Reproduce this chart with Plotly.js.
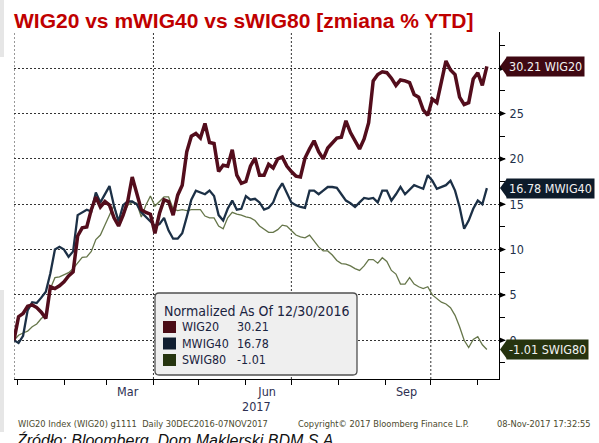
<!DOCTYPE html>
<html><head><meta charset="utf-8">
<script src="https://cdn.plot.ly/plotly-3.0.1.min.js"></script>
<style>html,body{margin:0;padding:0;background:#fff;} #chart{width:599px;height:443px;}</style>
</head><body><div id="chart"></div>
<script>
const dates = ['2016-12-30','2017-01-02','2017-01-05','2017-01-08','2017-01-11','2017-01-14','2017-01-17','2017-01-20','2017-01-23','2017-01-26','2017-01-29',
'2017-02-01','2017-02-04','2017-02-07','2017-02-10','2017-02-13','2017-02-16','2017-02-19','2017-02-22','2017-02-25','2017-02-28',
'2017-03-03','2017-03-06','2017-03-09','2017-03-12','2017-03-15','2017-03-18','2017-03-21','2017-03-24','2017-03-27','2017-03-30',
'2017-04-02','2017-04-05','2017-04-08','2017-04-11','2017-04-14','2017-04-17','2017-04-20','2017-04-23','2017-04-26','2017-04-29',
'2017-05-02','2017-05-05','2017-05-08','2017-05-11','2017-05-14','2017-05-17','2017-05-20','2017-05-23','2017-05-26','2017-05-29',
'2017-06-01','2017-06-04','2017-06-07','2017-06-10','2017-06-13','2017-06-16','2017-06-19','2017-06-22','2017-06-25','2017-06-28',
'2017-07-01','2017-07-04','2017-07-07','2017-07-10','2017-07-13','2017-07-16','2017-07-19','2017-07-22','2017-07-25','2017-07-28',
'2017-07-31','2017-08-03','2017-08-06','2017-08-09','2017-08-12','2017-08-15','2017-08-18','2017-08-21','2017-08-24','2017-08-27',
'2017-08-30','2017-09-02','2017-09-05','2017-09-08','2017-09-11','2017-09-14','2017-09-17','2017-09-20','2017-09-23','2017-09-26',
'2017-09-29','2017-10-02','2017-10-05','2017-10-08','2017-10-11','2017-10-14','2017-10-17','2017-10-20','2017-10-23','2017-10-26',
'2017-10-29','2017-11-01','2017-11-04','2017-11-07'];

const wig20 = [0.0,2.6,2.95,3.75,3.9,3.6,3.1,2.4,5.9,5.7,6.0,
6.45,7.1,7.55,11.5,12.4,12.5,14.4,15.8,14.7,15.3,
14.9,13.5,12.6,13.8,15.3,18.0,16.2,14.4,14.1,13.9,
11.8,14.0,15.5,15.3,13.8,16.0,17.1,20.8,22.5,22.8,
22.3,23.9,21.8,21.7,18.6,19.3,19.2,21.0,18.2,17.3,
17.5,19.2,20.1,18.2,18.2,19.4,19.0,20.0,20.2,19.2,
18.6,18.1,18.0,20.1,21.1,22.0,20.8,20.0,21.2,21.8,
22.3,22.4,24.2,22.9,22.0,21.1,22.2,24.0,28.6,29.3,
29.6,29.5,28.9,28.1,28.7,28.6,28.4,27.1,26.8,25.4,
24.8,26.6,26.2,28.4,30.8,29.8,29.3,26.8,26.0,26.2,
28.8,29.5,28.1,30.21];

const mwig40 = [0.0,-0.3,0.5,3.3,4.2,4.1,4.7,5.35,7.4,10.0,10.3,
10.0,9.2,9.8,13.8,14.1,14.4,14.2,16.3,15.2,16.1,
17.0,14.8,13.1,14.9,15.3,15.3,15.0,14.1,13.6,13.2,
12.6,12.8,13.5,12.1,11.2,11.2,11.8,13.6,15.5,16.5,
16.3,16.1,16.5,15.9,13.8,13.2,14.5,15.4,14.4,14.5,
15.9,15.5,15.6,15.2,14.4,14.6,15.2,16.5,17.3,16.2,
15.2,14.9,14.7,14.6,16.5,16.5,16.1,16.5,16.9,16.9,
16.8,16.1,15.4,15.1,14.7,15.2,15.7,15.6,15.7,15.2,
16.5,16.5,15.4,16.1,16.9,16.1,16.6,17.1,16.9,16.7,
18.2,17.6,16.7,16.9,17.1,17.6,16.5,14.7,12.3,13.2,
14.5,15.4,15.0,16.78];

const swig80 = [0.0,0.55,0.8,1.0,1.5,1.8,2.4,2.8,5.7,6.9,7.0,
7.2,7.45,7.9,8.5,9.15,9.2,9.8,11.1,11.6,12.7,
13.8,14.9,13.1,13.8,14.9,15.2,15.1,13.6,14.9,15.9,
14.8,15.3,15.8,15.8,14.5,14.3,14.4,14.3,14.4,14.4,
14.4,13.7,13.5,13.5,12.6,12.3,13.5,14.1,13.9,13.8,
13.6,13.5,13.2,12.6,12.2,11.9,11.9,12.2,12.7,12.6,
12.1,11.6,11.4,11.3,11.6,11.0,10.3,9.85,9.85,9.4,
8.8,8.45,8.4,8.2,7.9,7.7,8.2,8.9,8.9,8.5,
9.1,8.7,7.7,7.3,6.2,6.2,6.9,6.2,5.9,5.7,
5.9,5.0,4.6,4.2,4.0,3.6,2.75,1.5,0.0,-0.8,
0.1,0.4,-0.5,-1.01];

const seriesNames = ['WIG20','MWIG40','SWIG80'];
const yTickVals = [0,5,10,15,20,25,30];
const yTickText = ['0','5','10','15','20','25',''];
const xLabelVals = ['2017-03-15','2017-06-15','2017-09-15'];
const xLabelText = ['Mar','Jun','Sep'];
const monthStarts = ['2017-01-01','2017-02-01','2017-03-01','2017-04-01','2017-05-01','2017-06-01','2017-07-01','2017-08-01','2017-09-01','2017-10-01','2017-11-01'];
const quarterStarts = ['2016-12-30','2017-04-01','2017-07-01','2017-10-01'];
const legendTitle = 'Normalized As Of 12/30/2016';

const FONT = "'DejaVu Sans Condensed', 'Liberation Sans', sans-serif";
const lineColors = ['#530d1c','#1c3046','#66764a'];
const lineWidths = [3.5, 2.3, 1.3];
const boxColors = ['#3f0812','#0d1b2a','#26330f'];
const series = [wig20, mwig40, swig80];

const traces = [2,1,0].map(i => ({
  type:'scatter', mode:'lines', x:dates, y:series[i], name:seriesNames[i],
  line:{color:lineColors[i], width:lineWidths[i]}, hoverinfo:'skip', showlegend:false
}));

const shapes = [];
const annotations = [];

// grey strips at the left edge
shapes.push({type:'rect', xref:'paper', yref:'paper', x0:-0.0289, x1:-0.0206, y0:0.928, y1:1.1, fillcolor:'#e6e6e6', line:{width:0}, layer:'below'});
shapes.push({type:'rect', xref:'paper', yref:'paper', x0:-0.0289, x1:-0.0206, y0:-0.1527, y1:0.2565, fillcolor:'#e6e6e6', line:{width:0}, layer:'below'});

// quarterly vertical dotted grid
quarterStarts.forEach(q => shapes.push({type:'line', xref:'x', yref:'paper', x0:q, x1:q, y0:0, y1:1,
  line:{color:'#333', width:1, dash:'2px,2px'}, layer:'below'}));

// triangle markers on major y ticks
yTickVals.forEach(v => shapes.push({type:'path', xref:'paper', xsizemode:'pixel', xanchor:1, yref:'y',
  path:`M0,${v+0.33} L7,${v} L0,${v-0.33} Z`, fillcolor:'#000', line:{width:0}}));

// right-side last value labels
series.forEach((s,i) => {
  const v = s[s.length-1];
  shapes.push({type:'path', xref:'paper', xsizemode:'pixel', xanchor:1, yref:'y',
    path:`M1,${v} L8,${v+1.06} L8,${v-1.06} Z`, fillcolor:boxColors[i], line:{width:0}});
  annotations.push({xref:'paper', x:1, xshift:7, xanchor:'left', yref:'y', y:v, yanchor:'middle',
    text:`${v.toFixed(2)} ${seriesNames[i]}`, showarrow:false, bgcolor:boxColors[i], borderpad:2,
    font:{family:FONT, size:12.5, color:'#f2f2f2'}});
});

// legend box
const lx0=0.2907, lx1=0.7072, ly0=0.0115, ly1=0.2478, rx=0.0083, ry=0.0115;
shapes.push({type:'path', xref:'paper', yref:'paper',
  path:`M${lx0+rx},${ly0} L${lx1-rx},${ly0} Q${lx1},${ly0} ${lx1},${ly0+ry} L${lx1},${ly1-ry} Q${lx1},${ly1} ${lx1-rx},${ly1} L${lx0+rx},${ly1} Q${lx0},${ly1} ${lx0},${ly1-ry} L${lx0},${ly0+ry} Q${lx0},${ly0} ${lx0+rx},${ly0} Z`,
  fillcolor:'#efefef', line:{color:'#505050', width:1.3}, layer:'above'});
annotations.push({xref:'paper', yref:'paper', x:0.3052, y:0.196, xanchor:'left', yanchor:'middle', showarrow:false,
  text:legendTitle, font:{family:FONT, size:14, color:'#1a2340'}});
const legendSquares = ['#4a0c16','#101e30','#263510'];
const rowY = [0.1499, 0.1023, 0.0548];
series.forEach((s,i) => {
  const v = s[s.length-1];
  shapes.push({type:'rect', xref:'paper', yref:'paper', x0:0.3072, x1:0.3340, y0:rowY[i]-0.0173, y1:rowY[i]+0.0173,
    fillcolor:legendSquares[i], line:{width:0}, layer:'above'});
  annotations.push({xref:'paper', yref:'paper', x:0.3423, y:rowY[i], xanchor:'left', yanchor:'middle', showarrow:false,
    text:seriesNames[i], font:{family:FONT, size:12.4, color:'#1a2340'}});
  annotations.push({xref:'paper', yref:'paper', x:0.4557, y:rowY[i], xanchor:'left', yanchor:'middle', showarrow:false,
    text:v.toFixed(2), font:{family:FONT, size:12.4, color:'#1a2340'}});
});

// year label
annotations.push({xref:'x', x:'2017-06-08', yref:'paper', y:-0.0798, yanchor:'middle', showarrow:false,
  text:'2017', font:{family:FONT, size:12.5, color:'#2d2f52'}});

// footer
const footFont = {family:"'DejaVu Sans', sans-serif", size:8.3, color:'#4b4a2e'};
annotations.push({xref:'paper', yref:'paper', x:0.0041, y:-0.1297, xanchor:'left', yanchor:'middle', showarrow:false,
  text:'WIG20 Index (WIG20) g1111  Daily 30DEC2016-07NOV2017', font:footFont});
annotations.push({xref:'paper', yref:'paper', x:0.5814, y:-0.1297, xanchor:'left', yanchor:'middle', showarrow:false,
  text:'Copyright© 2017 Bloomberg Finance L.P.', font:footFont});
annotations.push({xref:'paper', yref:'paper', x:1.1938, y:-0.1297, xanchor:'right', yanchor:'middle', showarrow:false,
  text:'08-Nov-2017 17:32:55', font:footFont});
annotations.push({xref:'paper', yref:'paper', x:0, y:-0.1441, xanchor:'left', yanchor:'top', showarrow:false,
  text:'Źródło: Bloomberg, Dom Maklerski BDM S.A.', font:{family:"'Liberation Sans', Arial, sans-serif", size:16, color:'#111', style:'italic'}});

const layout = {
  width:599, height:443,
  margin:{l:14, r:100, t:32, b:64, pad:0},
  paper_bgcolor:'#ffffff', plot_bgcolor:'#ffffff',
  showlegend:false,
  title:{text:'WIG20 vs mWIG40 vs sWIG80 [zmiana % YTD]',
    font:{family:"'Liberation Sans', Arial, sans-serif", size:21, color:'#c00000', weight:'bold'},
    x:14/599, xanchor:'left', xref:'container', y:1-20.5/443, yref:'container', yanchor:'middle'},
  xaxis:{type:'date', range:['2016-12-30','2017-11-15'], tickmode:'array', tickvals:xLabelVals, ticktext:xLabelText,
    ticks:'', showgrid:false, zeroline:false, showline:true, linecolor:'#000', linewidth:1,
    tickfont:{family:FONT, size:12.5, color:'#2d2f52'}, ticklabelstandoff:1,
    minor:{tickmode:'array', tickvals:monthStarts, ticks:'outside', ticklen:5, tickwidth:1, tickcolor:'#000', showgrid:false},
    fixedrange:true},
  yaxis:{side:'right', range:[-4.27,33.99], tickmode:'array', tickvals:yTickVals, ticktext:yTickText, ticks:'outside', ticklen:5, tickwidth:1, tickcolor:'#000',
    showgrid:true, gridcolor:'#333', griddash:'2px,2px', gridwidth:1, zeroline:false, showline:true, linecolor:'#000', linewidth:1,
    tickfont:{family:FONT, size:12.5, color:'#22304a'}, ticklabelstandoff:2,
    minor:{tickmode:'linear', tick0:0, dtick:2.5, ticks:'outside', ticklen:5, tickwidth:1, tickcolor:'#000', showgrid:false},
    fixedrange:true},
  shapes:shapes, annotations:annotations
};

Plotly.newPlot('chart', traces, layout, {displayModeBar:false, staticPlot:true});
</script></body></html>
